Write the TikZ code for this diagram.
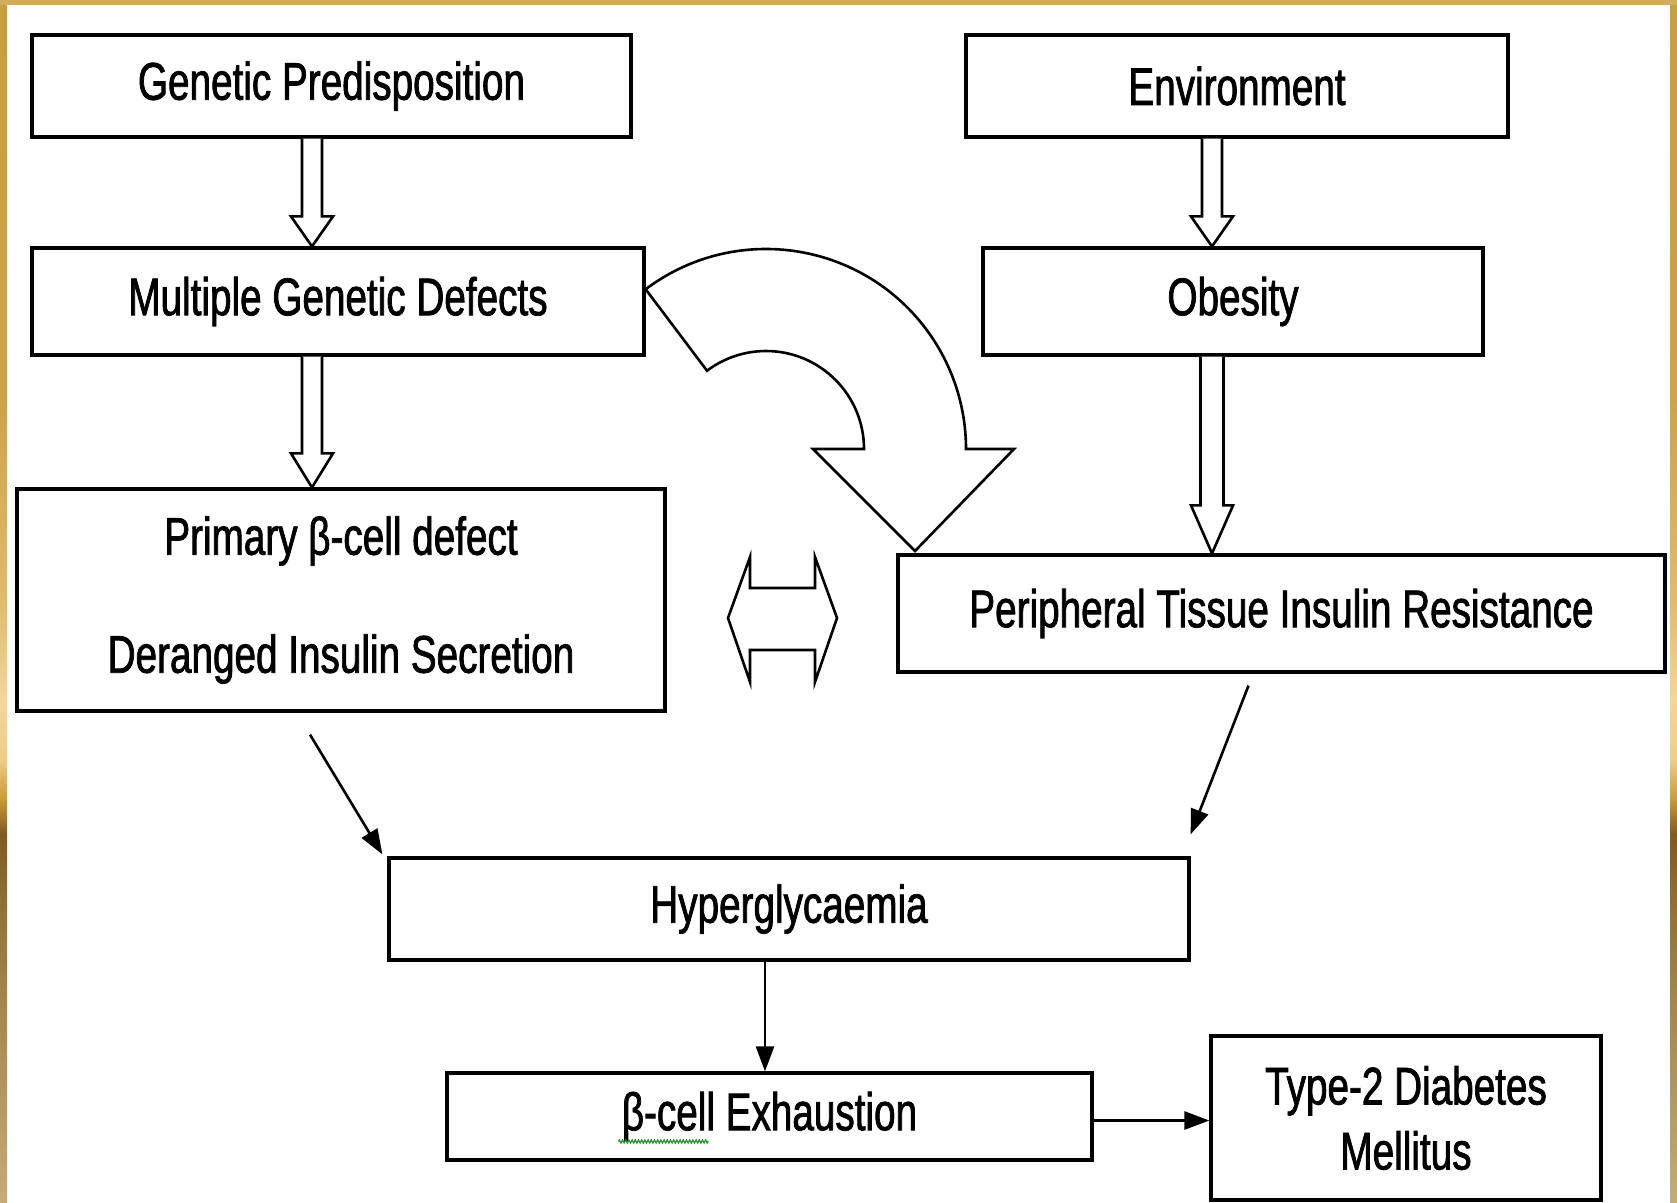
\documentclass[tikz,border=0pt]{standalone}
\usepackage{fontspec}
\setmainfont{Liberation Sans}[FakeStretch=0.73,FakeBold=1.4]
\usetikzlibrary{arrows.meta,calc,decorations.pathmorphing}

\definecolor{goldtop}{HTML}{C79E42}
\definecolor{goldupper}{HTML}{CBA34C}
\definecolor{goldpale}{HTML}{DDBB70}
\definecolor{goldlight}{HTML}{F3D797}
\definecolor{goldwarm}{HTML}{EDCD88}
\definecolor{goldamber}{HTML}{C6983A}
\definecolor{golddark}{HTML}{7E5A1F}
\definecolor{goldmid}{HTML}{8E7034}
\definecolor{goldlow}{HTML}{A2864C}
\definecolor{goldbot}{HTML}{C4AB79}
\definecolor{goldstrip}{HTML}{D2AC5C}
\definecolor{spellgreen}{HTML}{2F8F2F}

\pgfdeclareverticalshading{goldframe}{100bp}{color(0bp)=(goldbot); color(25bp)=(goldbot);
  color(33.4bp)=(goldlow); color(37.6bp)=(goldmid); color(40.3bp)=(golddark);
  color(41.7bp)=(goldamber); color(43.4bp)=(goldwarm); color(45.9bp)=(goldlight);
  color(50bp)=(goldpale); color(58.4bp)=(goldupper); color(75bp)=(goldtop); color(100bp)=(goldtop)}

\tikzset{
  box/.style={draw, rectangle, line width=3.2pt, inner sep=0pt, fill=white,
    font=\fontsize{53}{60}\selectfont, align=center},
  hollow/.style={draw, line width=2.6pt, fill=white, line join=miter},
  thinarrow/.style={line width=2.6pt, -{Triangle[length=25pt,width=18pt]}},
  spell/.style={draw=spellgreen, line width=1.2pt, decorate,
    decoration={zigzag, amplitude=1.6pt, segment length=3.2pt}}
}

% hollow block arrow going down: from, to, axis, shaft half, head half, head length
\newcommand{\hollowdown}[6]{%
  \draw[hollow] let \p1=(#1 -| #3), \p2=(#2 -| #3) in
    (\x1-#4,\y1) -- (\x1-#4,\y2+#6) -- (\x1-#5,\y2+#6) -- (\x2,\y2)
    -- (\x1+#5,\y2+#6) -- (\x1+#4,\y2+#6) -- (\x1+#4,\y1);}

\begin{document}
\begin{tikzpicture}[x=1pt,y=-1pt]
  \useasboundingbox (0,0) rectangle (1677,1202);
  \fill[white] (0,0) rectangle (1677,1202);

  % gold frame
  \shade[shading=goldframe] (0,0) rectangle (7,1202);
  \shade[shading=goldframe] (1670,0) rectangle (1677,1202);
  \fill[goldstrip] (0,0) rectangle (1677,5);

  % Boxes
  \node[box, minimum width=599pt, minimum height=102pt] (gen) at (331.5,86) {Genetic Predisposition};
  \node[box, minimum width=542pt, minimum height=102pt] (env) at (1237,86) {Environment};
  \node[box, minimum width=612pt, minimum height=107pt] (multi) at (338,301.5) {Multiple Genetic Defects};
  \node[box, minimum width=500pt, minimum height=107pt] (obes) at (1233,301.5) {Obesity};
  \node[box, minimum width=648pt, minimum height=222pt] (prim) at (341,600)
    {Primary β-cell defect\\[58pt]Deranged Insulin Secretion};
  \node[box, minimum width=767pt, minimum height=117pt] (peri) at (1281.5,613.5) {Peripheral Tissue Insulin Resistance};
  \node[box, minimum width=800pt, minimum height=102pt] (hyper) at (789,909) {Hyperglycaemia};
  \node[box, minimum width=645pt, minimum height=87pt] (exh) at (769.5,1116.5) {β-cell Exhaustion};
  \node[box, minimum width=390pt, minimum height=164pt] (tdm) at (1406,1118) {Type-2 Diabetes\\[5pt]Mellitus};

  % spell check mark
  \draw[spell] ([xshift=-151pt,yshift=-25pt]exh.center) -- ++(90,0);

  % Block arrows
  \coordinate (axL) at (312,0);
  \coordinate (axR) at (1212,0);
  \hollowdown{gen.south}{multi.north}{axL}{10pt}{21pt}{30pt}
  \hollowdown{multi.south}{prim.north}{axL}{10pt}{21pt}{34pt}
  \hollowdown{env.south}{obes.north}{axR}{10pt}{21pt}{30pt}
  \hollowdown{obes.south}{peri.north}{axR}{11.5pt}{21pt}{48pt}

  % curved arrow
  \coordinate (bend) at (766,449);
  \draw[hollow] (bend) ++(-127:200) arc[start angle=-127, end angle=0, radius=200]
    -- ++(48,0) -- (915,551) -- (813,449) -- ++(51,0)
    arc[start angle=0, end angle=-127, radius=98] -- cycle;

  % double arrow
  \draw[hollow] (750,588) -- (815,588) -- (815,557) -- (837,618) -- (815,682) -- (815,650)
    -- (750,650) -- (750,682) -- (728,618) -- (750,557) -- cycle;

  % Connections
  \draw[thinarrow] ([xshift=-31pt,yshift=-22pt]prim.south) -- ([xshift=-5pt,yshift=2pt]hyper.north west);
  \draw[thinarrow] ([xshift=-33pt,yshift=-12pt]peri.south) -- ([yshift=22pt]hyper.north east);
  \draw[thinarrow] ([xshift=-24pt]hyper.south) -- ([xshift=-24pt]hyper.south |- exh.north);
  \draw[thinarrow] ([yshift=-4pt]exh.east) -- ([yshift=-4pt]exh.east -| tdm.west);
\end{tikzpicture}
\end{document}
